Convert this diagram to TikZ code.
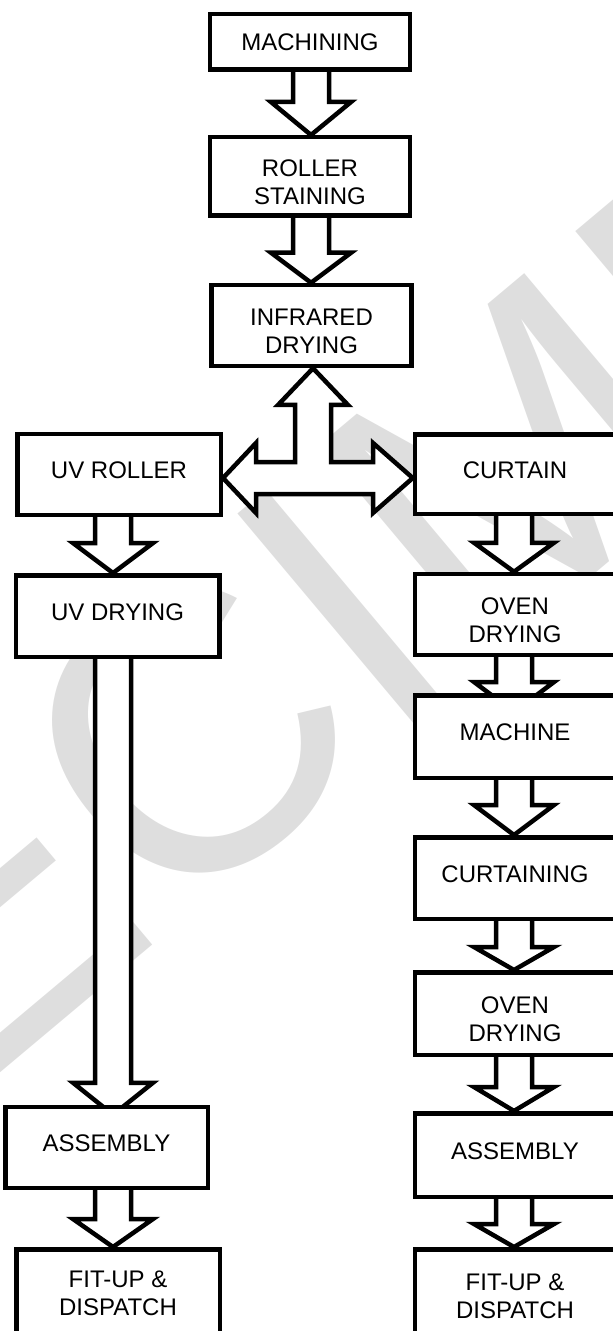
\documentclass[tikz,border=0pt]{standalone}
\usepackage{fontspec}
\setmainfont{Liberation Sans}
\usetikzlibrary{calc}

\pgfdeclarelayer{watermark}
\pgfdeclarelayer{arrows}
\pgfsetlayers{watermark,arrows,main}

% hollow block arrow from #1 down to #2 along column #3,
% head base #4 px above #2, head length #5 px
\newcommand{\blockdown}[5]{%
  \draw[flow] ($(#1.south -| #3)+(-18,-4)$) -- ($(#2.north -| #3)+(-18,-#4)$)
    -- ++(-22,0) -- ($(#2.north -| #3)+(0,#5-#4)$)
    -- ($(#2.north -| #3)+(40,-#4)$) -- ++(-22,0)
    -- ($(#1.south -| #3)+(18,-4)$) -- cycle;}

\begin{document}
\begin{tikzpicture}[x=0.5pt, y=-0.5pt,
  block/.style={rectangle, draw, line width=2.25pt, fill=white,
                minimum width=100pt, minimum height=40.5pt,
                font=\fontsize{12}{14}\selectfont, align=center},
  oneline/.style={text depth=4pt},
  twoline/.style={text height=28pt, text depth=0pt},
  flow/.style={draw, line width=2.25pt, fill=white, line join=miter},
  watermark/.style={text=black!13, font=\fontsize{200}{200}\selectfont, rotate=40}
]
  \useasboundingbox (0,0) rectangle (613,1331);

  % column lines of the arrows
  \coordinate (mcol) at (311,0);
  \coordinate (lcol) at (113,0);
  \coordinate (rcol) at (514,0);
  \coordinate (bar)  at (313,478);

  % Common steps
  \node[block, minimum height=27.75pt] (machining) at (310,42) {MACHINING};
  \node[block, twoline, minimum height=39.25pt] (roller) at (310,176.5) {ROLLER\\STAINING};
  \node[block, twoline] (infrared) at (311.5,325.5) {INFRARED\\DRYING};

  % UV line
  \node[block, oneline, minimum width=101.75pt] (uvroller) at (119,474.5) {UV ROLLER};
  \node[block, oneline, minimum width=101.75pt, minimum height=40.75pt] (uvdrying) at (117.5,616) {UV DRYING};
  \node[block, oneline, minimum width=101.25pt] (assemblyL) at (106.5,1147.5) {ASSEMBLY};
  \node[block, minimum width=101.75pt, minimum height=43.75pt] (fitupL) at (118,1293) {FIT-UP \&\\DISPATCH};

  % Curtain line
  \node[block, oneline, minimum height=39.75pt] (curtain) at (515,474) {CURTAIN};
  \node[block, twoline] (oven1) at (515,614.5) {OVEN\\DRYING};
  \node[block, oneline, minimum height=41.25pt] (machine) at (515,736.5) {MACHINE};
  \node[block, oneline, minimum height=40.75pt] (curtaining) at (515,878) {CURTAINING};
  \node[block, twoline, minimum height=41.25pt] (oven2) at (515,1013.5) {OVEN\\DRYING};
  \node[block, oneline, minimum height=41.75pt] (assemblyR) at (515,1155) {ASSEMBLY};
  \node[block, minimum height=46.75pt] (fitupR) at (515,1296) {FIT-UP \&\\DISPATCH};

  \begin{pgfonlayer}{arrows}
    \blockdown{machining}{roller}{mcol}{33}{33}
    \blockdown{roller}{infrared}{mcol}{30}{30}

    % split to both lines
    \draw[flow] (infrared.south -| bar) -- (348,405) -- (331,405) -- (331,462)
      -- (373,462) -- (373,443) -- (curtain.west |- bar) -- (373,513) -- (373,494)
      -- (256,494) -- (256,513) -- (uvroller.east |- bar) -- (256,443) -- (256,462)
      -- (295,462) -- (295,405) -- (278,405) -- cycle;

    \blockdown{uvroller}{uvdrying}{lcol}{30}{30}
    \blockdown{uvdrying}{assemblyL}{lcol}{22}{32}
    \blockdown{assemblyL}{fitupL}{lcol}{28}{28}

    \blockdown{curtain}{oven1}{rcol}{29}{29}
    \blockdown{oven1}{machine}{rcol}{11}{30}
    \blockdown{machine}{curtaining}{rcol}{30}{30}
    \blockdown{curtaining}{oven2}{rcol}{23}{23}
    \blockdown{oven2}{assemblyR}{rcol}{24}{24}
    \blockdown{assemblyR}{fitupR}{rcol}{23}{23}
  \end{pgfonlayer}

  \begin{pgfonlayer}{watermark}
    \node[watermark] (specimen) at (264,672) {SPECIMEN};
  \end{pgfonlayer}
\end{tikzpicture}
\end{document}
